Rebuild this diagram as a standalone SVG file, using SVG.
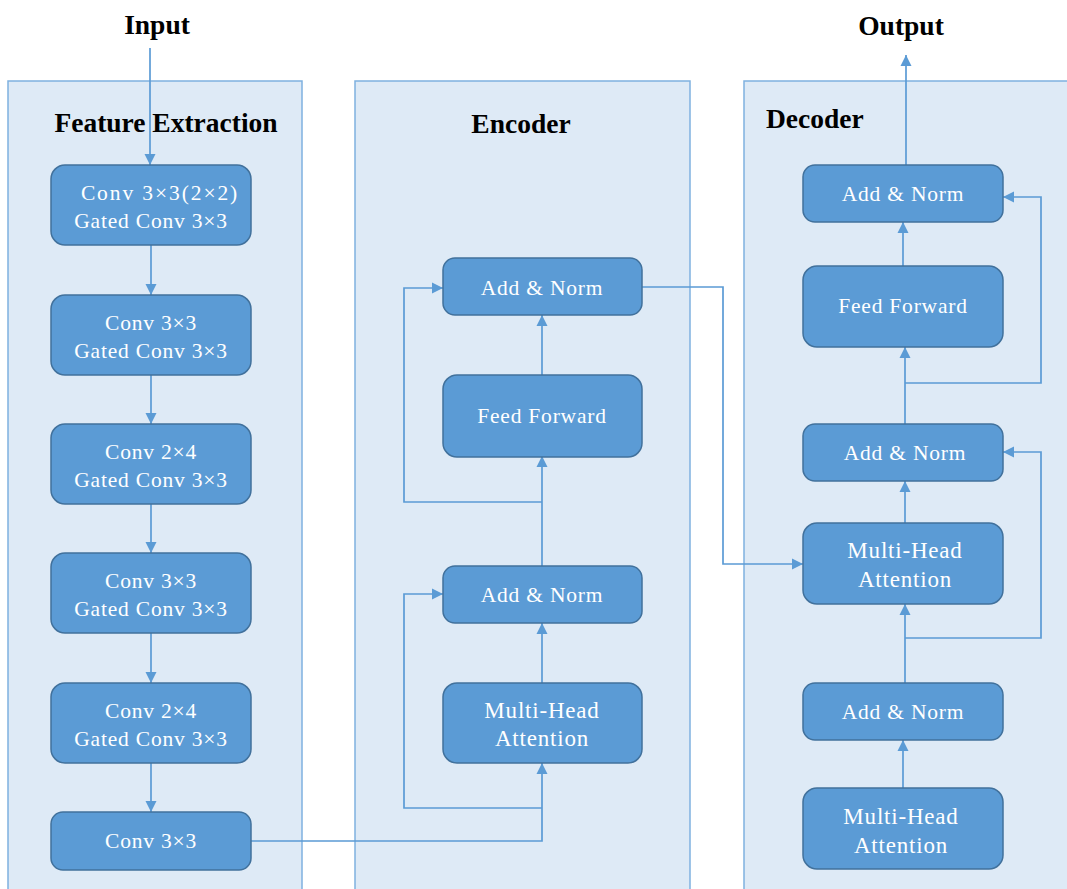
<svg xmlns="http://www.w3.org/2000/svg" width="1067" height="889" viewBox="0 0 1067 889">
<defs>
<style>
.panel{fill:#deeaf6;stroke:#7fb1e0;stroke-width:1.5}
.node rect{fill:#5b9bd5;stroke:#41719c;stroke-width:1.5}
.node text{fill:#ffffff;font-family:"Liberation Serif","Times New Roman",serif;font-size:21.5px;letter-spacing:0.8px;text-anchor:middle}
.title{fill:#000;font-family:"Liberation Serif","Times New Roman",serif;font-size:27.5px;font-weight:bold}
.conn path{fill:none;stroke:#5b9bd5;stroke-width:1.7}
</style>
<marker id="ah" markerUnits="userSpaceOnUse" markerWidth="12" markerHeight="12" refX="11" refY="6" orient="auto">
<path d="M0,0.5 L11,6 L0,11.5 Z" fill="#5b9bd5"/>
</marker>
</defs>
<rect width="1067" height="889" fill="#ffffff"/>
<g id="panels">
<rect class="panel" x="8" y="81" width="294" height="830"/>
<rect class="panel" x="355" y="81" width="335" height="830"/>
<rect class="panel" x="744" y="81" width="340" height="830"/>
</g>
<g id="titles">
<text class="title" x="157" y="34" text-anchor="middle">Input</text>
<text class="title" x="901" y="35" text-anchor="middle">Output</text>
<text class="title" x="166" y="132" text-anchor="middle">Feature Extraction</text>
<text class="title" x="521" y="133" text-anchor="middle">Encoder</text>
<text class="title" x="766" y="128">Decoder</text>
</g>
<g class="conn" id="connectors">
<path d="M150,48 V165" marker-end="url(#ah)"/>
<path d="M151,245 V295" marker-end="url(#ah)"/>
<path d="M151,375 V424" marker-end="url(#ah)"/>
<path d="M151,504 V553" marker-end="url(#ah)"/>
<path d="M151,633 V683" marker-end="url(#ah)"/>
<path d="M151,763 V812" marker-end="url(#ah)"/>
<path d="M251,841 H542 V763" marker-end="url(#ah)"/>
<path d="M542,683 V623" marker-end="url(#ah)"/>
<path d="M542,566 V456" marker-end="url(#ah)"/>
<path d="M542,375 V315" marker-end="url(#ah)"/>
<path d="M542,808 H404 V594 H443" marker-end="url(#ah)"/>
<path d="M542,502 H404 V288 H443" marker-end="url(#ah)"/>
<path d="M642,287 H723 V564 H803" marker-end="url(#ah)"/>
<path d="M903,788 V740" marker-end="url(#ah)"/>
<path d="M905,683 V604" marker-end="url(#ah)"/>
<path d="M905,523 V481" marker-end="url(#ah)"/>
<path d="M905,424 V347" marker-end="url(#ah)"/>
<path d="M903,266 V222" marker-end="url(#ah)"/>
<path d="M906,165 V55" marker-end="url(#ah)"/>
<path d="M905,638 H1041 V452 H1003" marker-end="url(#ah)"/>
<path d="M905,383 H1041 V197 H1003" marker-end="url(#ah)"/>
</g>
<g id="fe1" class="node"><rect x="51" y="165" width="200" height="80" rx="14"/><text x="160" y="200" style="letter-spacing:1.9px">Conv 3×3(2×2)</text><text x="151" y="228">Gated Conv 3×3</text></g>
<g id="fe2" class="node"><rect x="51" y="295" width="200" height="80" rx="14"/><text x="151" y="330">Conv 3×3</text><text x="151" y="358">Gated Conv 3×3</text></g>
<g id="fe3" class="node"><rect x="51" y="424" width="200" height="80" rx="14"/><text x="151" y="459">Conv 2×4</text><text x="151" y="487">Gated Conv 3×3</text></g>
<g id="fe4" class="node"><rect x="51" y="553" width="200" height="80" rx="14"/><text x="151" y="588">Conv 3×3</text><text x="151" y="616">Gated Conv 3×3</text></g>
<g id="fe5" class="node"><rect x="51" y="683" width="200" height="80" rx="14"/><text x="151" y="718">Conv 2×4</text><text x="151" y="746">Gated Conv 3×3</text></g>
<g id="fe6" class="node"><rect x="51" y="812" width="200" height="58" rx="12"/><text x="151" y="848">Conv 3×3</text></g>
<g id="enc_addnorm2" class="node"><rect x="443" y="258" width="199" height="57" rx="12"/><text x="542" y="295">Add &amp; Norm</text></g>
<g id="enc_ff" class="node"><rect x="443" y="375" width="199" height="82" rx="14"/><text x="542" y="423">Feed Forward</text></g>
<g id="enc_addnorm1" class="node"><rect x="443" y="566" width="199" height="57" rx="12"/><text x="542" y="602">Add &amp; Norm</text></g>
<g id="enc_mha" class="node"><rect x="443" y="683" width="199" height="80" rx="14"/><text x="542" y="718" style="font-size:23px">Multi-Head</text><text x="542" y="746" style="font-size:23px">Attention</text></g>
<g id="dec_addnorm3" class="node"><rect x="803" y="165" width="200" height="57" rx="12"/><text x="903" y="201">Add &amp; Norm</text></g>
<g id="dec_ff" class="node"><rect x="803" y="266" width="200" height="81" rx="14"/><text x="903" y="313">Feed Forward</text></g>
<g id="dec_addnorm2" class="node"><rect x="803" y="424" width="200" height="57" rx="12"/><text x="905" y="460">Add &amp; Norm</text></g>
<g id="dec_mha2" class="node"><rect x="803" y="523" width="200" height="81" rx="14"/><text x="905" y="558" style="font-size:23px">Multi-Head</text><text x="905" y="587" style="font-size:23px">Attention</text></g>
<g id="dec_addnorm1" class="node"><rect x="803" y="683" width="200" height="57" rx="12"/><text x="903" y="719">Add &amp; Norm</text></g>
<g id="dec_mha1" class="node"><rect x="803" y="788" width="200" height="81" rx="14"/><text x="901" y="824" style="font-size:23px">Multi-Head</text><text x="901" y="853" style="font-size:23px">Attention</text></g>
</svg>
